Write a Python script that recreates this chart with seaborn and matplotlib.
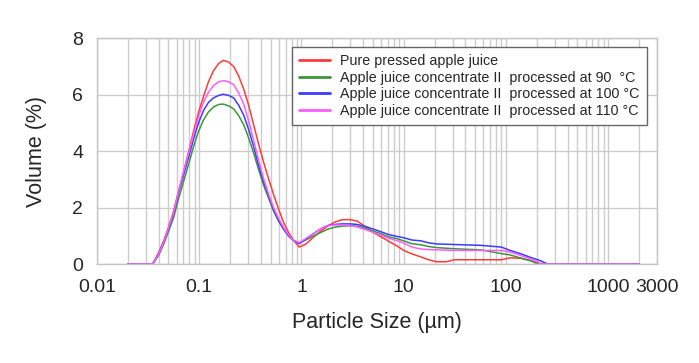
import numpy as np
import pandas as pd
import matplotlib
matplotlib.use("Agg")
import matplotlib.pyplot as plt
import matplotlib.ticker as mticker
import seaborn as sns

# particle size bins (um) and volume %
size = [0.02, 0.035, 0.04, 0.045, 0.05,
        0.056, 0.062, 0.07, 0.079, 0.088,
        0.098, 0.11, 0.123, 0.138, 0.155,
        0.172, 0.193, 0.217, 0.243, 0.272,
        0.305, 0.34, 0.38, 0.427, 0.48,
        0.535, 0.6, 0.67, 0.75, 0.84,
        0.95, 1.1, 1.3, 1.55, 1.8,
        2.1, 2.5, 3.0, 3.5, 4.2,
        5, 6, 7, 8.5, 10,
        12, 14.7, 17.5, 21, 26,
        31, 57, 90, 110, 140,
        175, 205, 220, 255, 300,
        2000]

pure = [0, 0, 0.4, 0.83, 1.3,
        1.86, 2.5, 3.24, 4.0, 4.71,
        5.35, 5.93, 6.45, 6.85, 7.1,
        7.21, 7.15, 6.99, 6.65, 6.19,
        5.6, 4.93, 4.25, 3.59, 2.98,
        2.44, 1.92, 1.46, 1.1, 0.83,
        0.6, 0.7, 0.94, 1.17, 1.34,
        1.48, 1.57, 1.57, 1.52, 1.33,
        1.12, 0.96, 0.82, 0.65, 0.48,
        0.36, 0.25, 0.15, 0.08, 0.08,
        0.15, 0.15, 0.15, 0.22, 0.20,
        0.12, 0.05, 0.02, 0, 0,
        0]

c90 = [0, 0, 0.3, 0.71, 1.15,
       1.63, 2.25, 2.90, 3.55, 4.16,
       4.68, 5.10, 5.38, 5.56, 5.65,
       5.66, 5.6, 5.49, 5.25, 4.93,
       4.45, 3.93, 3.35, 2.78, 2.3,
       1.86, 1.5, 1.23, 1.0, 0.83,
       0.75, 0.85, 0.99, 1.12, 1.23,
       1.3, 1.34, 1.35, 1.34, 1.27,
       1.17, 1.07, 0.97, 0.9, 0.82,
       0.72, 0.68, 0.62, 0.58, 0.56,
       0.54, 0.50, 0.37, 0.32, 0.21,
       0.11, 0, 0, 0, 0,
       0]

c100 = [0, 0, 0.35, 0.77, 1.25,
        1.75, 2.45, 3.13, 3.8, 4.43,
        4.98, 5.43, 5.72, 5.88, 5.97,
        6.01, 5.97, 5.88, 5.62, 5.27,
        4.75, 4.16, 3.5, 2.90, 2.38,
        1.92, 1.53, 1.23, 0.98, 0.83,
        0.72, 0.88, 1.07, 1.25, 1.36,
        1.4, 1.42, 1.42, 1.40, 1.33,
        1.24, 1.14, 1.05, 0.98, 0.93,
        0.85, 0.82, 0.75, 0.71, 0.70,
        0.69, 0.66, 0.60, 0.48, 0.36,
        0.23, 0.15, 0.11, 0, 0,
        0]

c110 = [0, 0, 0.35, 0.77, 1.28,
        1.80, 2.5, 3.24, 3.95, 4.6,
        5.2, 5.72, 6.08, 6.32, 6.45,
        6.49, 6.45, 6.35, 6.05, 5.66,
        5.05, 4.38, 3.68, 3.01, 2.45,
        1.98, 1.6, 1.29, 1.02, 0.83,
        0.76, 0.9, 1.07, 1.25, 1.36,
        1.38, 1.38, 1.35, 1.31, 1.22,
        1.12, 1.02, 0.92, 0.83, 0.74,
        0.6, 0.53, 0.51, 0.50, 0.49,
        0.48, 0.48, 0.48, 0.42, 0.30,
        0.17, 0.08, 0, 0, 0,
        0]

labels = ["Pure pressed apple juice",
          "Apple juice concentrate II  processed at 90  \u00b0C",
          "Apple juice concentrate II  processed at 100 \u00b0C",
          "Apple juice concentrate II  processed at 110 \u00b0C"]
colors = ["#ff3b3b", "#3c963c", "#3b3bff", "#ff5cff"]

xticks = [0.01, 0.1, 1, 10, 100, 1000, 3000]
xticklabels = ["0.01", "0.1", "1", "10", "100", "1000", "3000"]

rows = []
for lab, vals in zip(labels, [pure, c90, c100, c110]):
    for s, v in zip(size, vals):
        rows.append({"size": s, "volume": v, "sample": lab})
df = pd.DataFrame(rows)

sns.set_style("white")
plt.rcParams["font.family"] = ["Liberation Sans", "DejaVu Sans"]

fig = plt.figure(figsize=(6.99, 3.63), dpi=100)
ax = fig.add_axes([0.1388, 0.2727, 0.8011, 0.6226])

sns.lineplot(data=df, x="size", y="volume", hue="sample", hue_order=labels,
             palette=colors, linewidth=1.1, ax=ax, sort=False)

ax.set_xscale("log")
ax.set_xlim(0.01, 3000)
ax.set_ylim(0, 8)
ax.xaxis.set_minor_locator(mticker.LogLocator(base=10, subs=np.arange(2, 10)))
ax.xaxis.set_minor_formatter(mticker.NullFormatter())
ax.set_xticks(xticks)
ax.set_xticklabels(xticklabels)
ax.set_yticks([0, 2, 4, 6, 8])

ax.grid(True, which="major", axis="both", color="#cccccc", linewidth=1)
ax.grid(True, which="minor", axis="x", color="#cccccc", linewidth=1)
ax.set_axisbelow(True)
for sp in ax.spines.values():
    sp.set_color("#c4c4c4")
    sp.set_linewidth(1)

ax.tick_params(axis="both", which="both", length=0, labelsize=14)
ax.tick_params(axis="x", pad=11)
ax.tick_params(axis="y", pad=10)

ax.set_xlabel("Particle Size (\u00b5m)", fontsize=15.5, labelpad=11)
ax.set_ylabel("Volume (%)", fontsize=15.5, labelpad=18)

leg = ax.legend(loc="upper right", bbox_to_anchor=(0.982, 0.962), fontsize=10.3,
                frameon=True, fancybox=False, framealpha=1, edgecolor="#666666",
                handlelength=2.2, handletextpad=0.7, labelspacing=0.2,
                borderpad=0.5, borderaxespad=0)
leg.get_frame().set_linewidth(1)
for line in leg.get_lines():
    line.set_linewidth(2)

fig.savefig("out.png", dpi=100)
